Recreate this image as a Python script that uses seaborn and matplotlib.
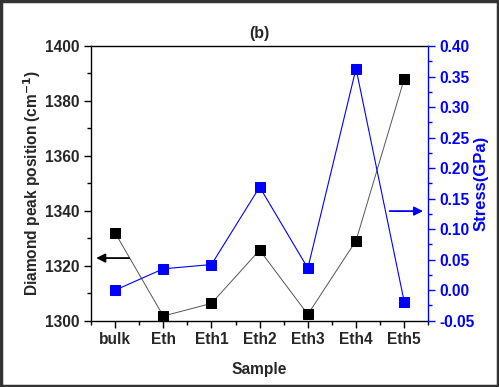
import numpy as np
import pandas as pd
import matplotlib
matplotlib.use("Agg")
import matplotlib.pyplot as plt
from matplotlib.patches import Rectangle
from matplotlib.ticker import MultipleLocator
import seaborn as sns

samples = ["bulk", "Eth", "Eth1", "Eth2", "Eth3", "Eth4", "Eth5"]
peak_position = [1332.0, 1301.7, 1306.3, 1325.7, 1302.3, 1329.1, 1388.0]
stress = [0.000, 0.035, 0.042, 0.169, 0.036, 0.363, -0.019]

sns.set_theme(style="ticks")
plt.rcParams['font.family'] = ['Liberation Sans', 'DejaVu Sans']
plt.rcParams['font.weight'] = 'bold'

df = pd.DataFrame({"pos": np.arange(len(samples)), "sample": samples,
                   "peak": peak_position, "stress": stress})

fig = plt.figure(figsize=(4.99, 3.87), dpi=100)
ax = fig.add_axes([91/499, 1-320.7/387, (428.3-91)/499, (320.7-46)/387])
ax2 = ax.twinx()

sns.lineplot(data=df, x="pos", y="peak", ax=ax, sort=False, color="#555555",
             linewidth=0.7, marker="s", markersize=7.5, markerfacecolor="black",
             markeredgecolor="black")
sns.lineplot(data=df, x="pos", y="stress", ax=ax2, sort=False, color="blue",
             linewidth=0.8, marker="s", markersize=7.5, markerfacecolor="blue",
             markeredgecolor="blue")

ax.set_xlim(-0.5, 6.5)
ax.set_ylim(1300, 1400)
ax2.set_ylim(-0.05, 0.40)
ax.set_xticks(np.arange(len(samples)))
ax.set_xticklabels(samples)
ax.xaxis.set_minor_locator(MultipleLocator(0.5))
ax.yaxis.set_major_locator(MultipleLocator(20))
ax.yaxis.set_minor_locator(MultipleLocator(10))
ax2.yaxis.set_major_locator(MultipleLocator(0.05))
ax2.yaxis.set_minor_locator(MultipleLocator(0.025))
ax2.yaxis.set_major_formatter(matplotlib.ticker.FormatStrFormatter('%.2f'))

fs = 11.2
for lab in ax.get_xticklabels() + ax.get_yticklabels():
    lab.set_fontsize(fs); lab.set_fontweight('bold')
for lab in ax2.get_yticklabels():
    lab.set_fontsize(fs); lab.set_fontweight('bold'); lab.set_color('blue')

ax.tick_params(axis='both', which='major', direction='out', length=5, width=1, color='black', pad=3)
ax.tick_params(axis='both', which='minor', direction='out', length=3, width=1, color='black')
ax2.tick_params(axis='y', which='major', direction='out', length=5, width=1, color='blue', pad=3)
ax2.tick_params(axis='y', which='minor', direction='out', length=3, width=1, color='blue')

ax.set_xlabel("Sample", fontsize=11.2, fontweight='bold', labelpad=11)
ax.set_ylabel("Diamond peak position (cm$^{\\mathbf{-1}}$)", fontsize=11.2, fontweight='bold', labelpad=2)
ax2.set_ylabel("Stress(GPa)", fontsize=12, fontweight='bold', color='blue', labelpad=-1)
ax.set_title("(b)", fontsize=11.5, fontweight='bold', pad=6)

for s in ['left', 'bottom', 'top']:
    ax.spines[s].set_color('black'); ax.spines[s].set_linewidth(1)
ax.spines['right'].set_visible(False)
for s in ['left', 'bottom', 'top']:
    ax2.spines[s].set_visible(False)
ax2.spines['right'].set_color('blue'); ax2.spines['right'].set_linewidth(1)
ax2.spines['right'].set_visible(True)

ax.annotate("", xy=(-0.45, 1322.8), xytext=(0.35, 1322.8),
            arrowprops=dict(arrowstyle="-|>", color="black", lw=1.3, mutation_scale=13))
ax.annotate("", xy=(6.45, 1339.9), xytext=(5.64, 1339.9),
            arrowprops=dict(arrowstyle="-|>", color="blue", lw=1.3, mutation_scale=13))

fig.patches.append(Rectangle((0.002, 0.003), 0.996, 0.994, transform=fig.transFigure,
                             fill=False, edgecolor='#333333', linewidth=2.5))

fig.savefig("out.png", dpi=100)
